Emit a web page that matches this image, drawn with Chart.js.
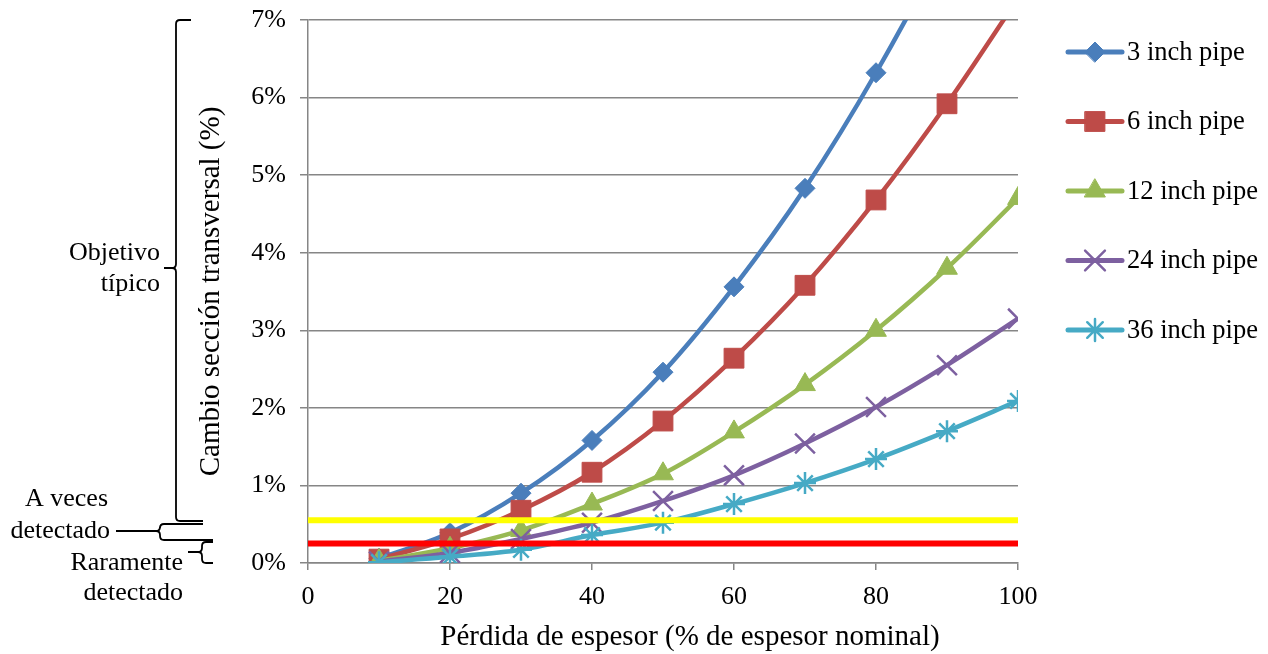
<!DOCTYPE html>
<html>
<head>
<meta charset="utf-8">
<script src="https://cdn.jsdelivr.net/npm/chart.js@4/dist/chart.umd.min.js"></script>
<style>
  html, body { margin: 0; padding: 0; background: #fff; }
  #wrap { width: 1268px; height: 654px; }
</style>
</head>
<body>
<div id="wrap"><canvas id="c" width="1268" height="654"></canvas></div>
<script>
// Wall loss (% of nominal thickness)
const lossPct = [10, 20, 30, 40, 50, 60, 70, 80, 90, 100];

// Cross-section change (%) per pipe size
const pipe3  = [0.06, 0.39, 0.90, 1.58, 2.46, 3.56, 4.83, 6.32, 8.02, 9.95];
const pipe6  = [0.05, 0.31, 0.68, 1.17, 1.83, 2.64, 3.58, 4.68, 5.92, 7.28];
const pipe12 = [0.03, 0.19, 0.42, 0.76, 1.15, 1.69, 2.30, 3.00, 3.80, 4.70];
const pipe24 = [0.02, 0.13, 0.31, 0.52, 0.80, 1.13, 1.54, 2.01, 2.55, 3.15];
const pipe36 = [0.01, 0.08, 0.17, 0.36, 0.52, 0.76, 1.03, 1.34, 1.70, 2.09];

const seriesNames = ['3 inch pipe', '6 inch pipe', '12 inch pipe', '24 inch pipe', '36 inch pipe'];

// Detection thresholds (%)
const thresholdX = [0, 100];
const sometimesLevel = 0.55;
const rarelyLevel = 0.25;

const xTicks = [0, 20, 40, 60, 80, 100];
const yTicks = [0, 1, 2, 3, 4, 5, 6, 7];

const xTitle = 'Pérdida de espesor (% de espesor nominal)';
const yTitle = 'Cambio sección transversal (%)';

const FONT = "'Liberation Serif', 'Times New Roman', serif";

function pts(xs, ys) { return xs.map((x, i) => ({ x: x, y: ys[i] })); }
function flat(y) { return thresholdX.map(x => ({ x: x, y: y })); }

const styles = [
  { color: '#4A7EBB', point: 'rectRot',  r: 10, bw: 1 },
  { color: '#BE4B48', point: 'rect',     r: 14, bw: 1 },
  { color: '#98B954', point: 'triangle', r: 12, bw: 1 },
  { color: '#7D60A0', point: 'crossRot', r: 14, bw: 2.5 },
  { color: '#46AAC5', point: 'star',     r: 11, bw: 2.5 }
];
const seriesData = [pipe3, pipe6, pipe12, pipe24, pipe36];

const datasets = seriesData.map((ys, i) => ({
  label: seriesNames[i],
  data: pts(lossPct, ys),
  borderColor: styles[i].color,
  backgroundColor: styles[i].color,
  borderWidth: 4.5,
  tension: 0.35,
  pointStyle: styles[i].point,
  pointRadius: styles[i].r,
  pointBorderWidth: styles[i].bw,
  pointBorderColor: styles[i].color,
  pointBackgroundColor: styles[i].color,
  order: 5 - i,
  inLegend: true
}));

datasets.push({
  label: 'A veces detectado',
  data: flat(sometimesLevel),
  borderColor: '#FFFF00',
  borderWidth: 6,
  pointRadius: 0,
  order: -1,
  inLegend: false
});
datasets.push({
  label: 'Raramente detectado',
  data: flat(rarelyLevel),
  borderColor: '#FF0000',
  borderWidth: 6,
  pointRadius: 0,
  order: -2,
  inLegend: false
});

// Legend drawn to the right of the plot: short line with the series marker
const sideLegend = {
  id: 'sideLegend',
  afterDraw(chart) {
    const ctx = chart.ctx;
    const x0 = 1068, x1 = 1122, top = 52, step = 69.5;
    let row = 0;
    chart.data.datasets.forEach((ds) => {
      if (!ds.inLegend) return;
      const y = top + row * step;
      ctx.save();
      ctx.strokeStyle = ds.borderColor;
      ctx.lineWidth = 5;
      ctx.lineCap = 'round';
      ctx.beginPath();
      ctx.moveTo(x0, y);
      ctx.lineTo(x1, y);
      ctx.stroke();
      ctx.fillStyle = ds.pointBackgroundColor;
      ctx.strokeStyle = ds.pointBorderColor;
      ctx.lineWidth = ds.pointBorderWidth;
      Chart.helpers.drawPoint(ctx, {
        pointStyle: ds.pointStyle,
        radius: ds.pointRadius,
        rotation: 0,
        borderWidth: ds.pointBorderWidth
      }, (x0 + x1) / 2, y);
      ctx.fillStyle = '#000';
      ctx.font = '26.5px ' + FONT;
      ctx.textAlign = 'left';
      ctx.textBaseline = 'middle';
      ctx.fillText(ds.label, x1 + 5, y + 1);
      ctx.restore();
      row++;
    });
  }
};

// Detection-range braces, their labels and the horizontal axis title
const rangeBraces = {
  id: 'rangeBraces',
  afterDraw(chart) {
    const ctx = chart.ctx;
    ctx.save();
    ctx.strokeStyle = '#000';
    ctx.lineWidth = 1.8;
    ctx.lineJoin = 'round';

    function brace(x, yTop, yBot, yMid, tipX, topEnd, botEnd) {
      const r = 4;
      ctx.beginPath();
      ctx.moveTo(topEnd, yTop);
      ctx.lineTo(x + r, yTop);
      ctx.quadraticCurveTo(x, yTop, x, yTop + r);
      ctx.lineTo(x, yMid - r);
      ctx.quadraticCurveTo(x, yMid, x - r, yMid);
      ctx.lineTo(tipX, yMid);
      ctx.moveTo(x - r, yMid);
      ctx.quadraticCurveTo(x, yMid, x, yMid + r);
      ctx.lineTo(x, yBot - r);
      ctx.quadraticCurveTo(x, yBot, x + r, yBot);
      ctx.lineTo(botEnd, yBot);
      ctx.stroke();
    }

    brace(176, 20, 521, 268, 164, 191, 203);
    brace(160, 524, 540, 531, 116, 203, 213);
    brace(202, 542, 563, 552, 188, 213, 213);

    ctx.fillStyle = '#000';
    ctx.font = '26px ' + FONT;
    ctx.textAlign = 'right';
    ctx.textBaseline = 'middle';
    ctx.fillText('Objetivo', 160, 253);
    ctx.fillText('típico', 160, 284);
    ctx.fillText('A veces', 108, 499);
    ctx.fillText('detectado', 110, 531);
    ctx.fillText('Raramente', 183, 563);
    ctx.fillText('detectado', 183, 593);

    ctx.textAlign = 'center';
    ctx.font = '29px ' + FONT;
    ctx.fillText(xTitle, 690, 637);
    ctx.restore();
  }
};

new Chart(document.getElementById('c'), {
  type: 'line',
  data: { datasets: datasets },
  plugins: [sideLegend, rangeBraces],
  options: {
    responsive: false,
    animation: false,
    devicePixelRatio: 1,
    layout: { padding: { left: 194, right: 250, top: 20, bottom: 0 } },
    plugins: {
      legend: { display: false },
      tooltip: { enabled: false }
    },
    scales: {
      x: {
        type: 'linear',
        min: 0,
        max: 100,
        afterFit(scale) {
          scale.height = 91;
          scale.paddingLeft = 0;
          scale.paddingRight = 0;
        },
        afterBuildTicks(scale) { scale.ticks = xTicks.map(v => ({ value: v })); },
        grid: { drawOnChartArea: false, color: '#868686', lineWidth: 1.5, tickLength: 7 },
        border: { color: '#868686', width: 1.5 },
        ticks: { color: '#000', padding: 12, font: { family: FONT, size: 26 } },
        title: { display: false }
      },
      y: {
        type: 'linear',
        min: 0,
        max: 7,
        afterFit(scale) {
          scale.width = 114;
          scale.paddingTop = 0;
          scale.paddingBottom = 0;
        },
        afterBuildTicks(scale) { scale.ticks = yTicks.map(v => ({ value: v })); },
        grid: { color: '#868686', lineWidth: 1.5, tickLength: 8 },
        border: { color: '#868686', width: 1.5 },
        ticks: {
          color: '#000',
          padding: 14,
          font: { family: FONT, size: 26 },
          callback: (v) => v + '%'
        },
        title: {
          display: true,
          text: yTitle,
          color: '#000',
          padding: { top: 0, bottom: 0 },
          font: { family: FONT, size: 29 }
        }
      }
    }
  }
});
</script>
</body>
</html>
